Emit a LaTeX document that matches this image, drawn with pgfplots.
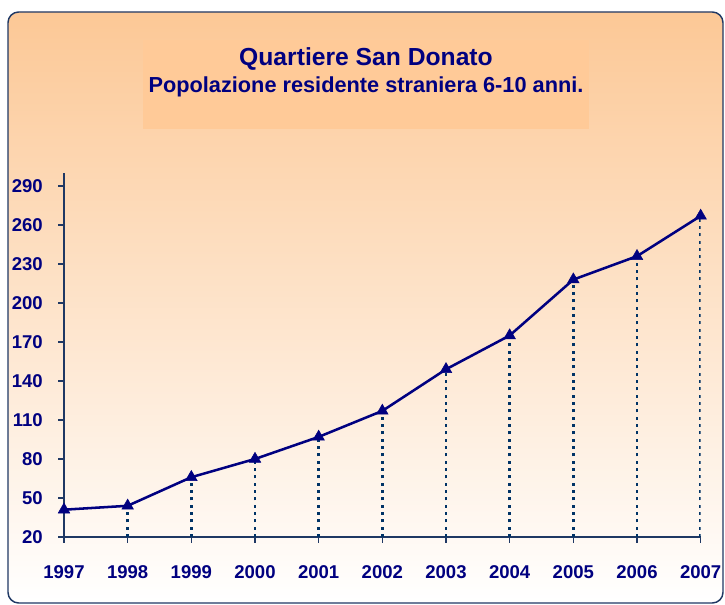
\documentclass[border=0pt]{standalone}
\usepackage{pgfplots}
\pgfplotsset{compat=1.18}
\usepackage{fontspec}
\setmainfont{Liberation Sans}
\definecolor{navy}{RGB}{0,0,128}
\definecolor{axisc}{RGB}{31,56,100}
\definecolor{dropc}{RGB}{0,51,102}
\definecolor{peach}{RGB}{252,200,150}
\definecolor{peachmid}{RGB}{254,226,202}
\definecolor{boxc}{RGB}{255,202,152}
\begin{document}
\begin{tikzpicture}
\useasboundingbox (0,0) rectangle (543.75pt,453.75pt);
\shade[top color=peach, middle color=peachmid, bottom color=white] [rounded corners=8pt] (6pt,1.5pt) rectangle (542.25pt,444.75pt);
\draw[axisc, line width=1.1pt, rounded corners=8pt] (6pt,1.5pt) rectangle (542.25pt,444.75pt);
\fill[boxc] (107.25pt,357pt) rectangle (441.75pt,423.75pt);
\node[navy, font=\bfseries\fontsize{18.5}{20}\selectfont] at (274.5pt,409.5pt) {Quartiere San Donato};
\node[navy, font=\bfseries\fontsize{16.3}{18}\selectfont] at (274.5pt,388.5pt) {Popolazione residente straniera 6-10 anni.};
\begin{axis}[
  at={(48pt,51pt)}, anchor=south west,
  scale only axis, width=477.5pt, height=273pt,
  xmin=1997, xmax=2007, ymin=20, ymax=300,
  axis lines*=left,
  axis line style={axisc, line width=1.1pt},
  xtick={1997,1998,...,2007}, ytick={20,50,...,290},
  tick align=outside, major tick length=4.5pt,
  tick style={axisc, line width=1.1pt},
  /pgf/number format/assume math mode=true,
  /pgf/number format/1000 sep={},
  ticklabel style={navy, font=\bfseries\fontsize{13.9}{15}\selectfont},
  yticklabel style={anchor=east, inner sep=0pt, xshift=-11.25pt},
  xticklabel style={anchor=center, inner sep=0pt, yshift=-21.5pt},
]
\addplot[dropc, line width=1.9pt, dash pattern=on 2.2pt off 3.3pt, ycomb] coordinates {
 (1998,44) (1999,66) (2000,80) (2001,97) (2002,117) (2003,149) (2004,175) (2005,218) (2006,236) (2007,267)};
\addplot[navy, line width=1.9pt, mark=triangle*, mark size=5pt, mark options={solid, fill=navy, line width=0.4pt}] coordinates {
 (1997,41) (1998,44) (1999,66) (2000,80) (2001,97) (2002,117) (2003,149) (2004,175) (2005,218) (2006,236) (2007,267)};
\end{axis}
\end{tikzpicture}
\end{document}
